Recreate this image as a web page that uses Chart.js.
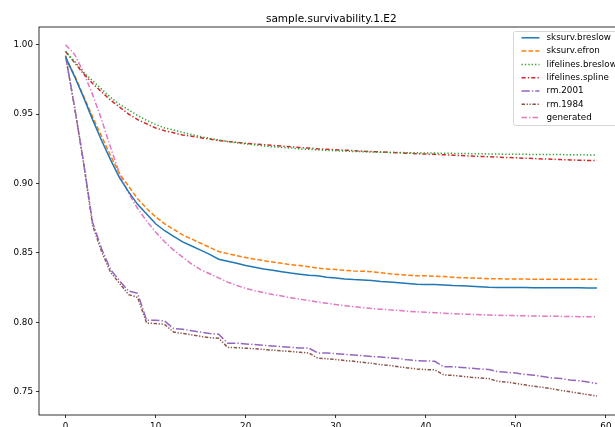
<!DOCTYPE html>
<html>
<head>
<meta charset="utf-8">
<title>sample.survivability.1.E2</title>
<script src="https://cdn.jsdelivr.net/npm/chart.js@4.4.1/dist/chart.umd.min.js"></script>
<style>
  html, body { margin: 0; padding: 0; background: #fff; overflow: hidden; }
  #wrap { width: 640px; height: 427px; }
</style>
</head>
<body>
<div id="wrap"><canvas id="surv" width="640" height="427"></canvas></div>
<script>
// time grid (days)
const times = [0, 1, 2, 3, 4, 5, 6, 7, 8, 9,
  10, 11, 12, 13, 14, 15, 16, 17, 18, 19,
  20, 21, 22, 23, 24, 25, 26, 27, 28, 29,
  30, 31, 32, 33, 34, 35, 36, 37, 38, 39,
  40, 41, 42, 43, 44, 45, 46, 47, 48, 49,
  50, 51, 52, 53, 54, 55, 56, 57, 58, 59];

const sksurvBreslow = [0.991, 0.977, 0.962, 0.946, 0.931, 0.917, 0.904, 0.894, 0.885, 0.878,
  0.871, 0.866, 0.862, 0.858, 0.855, 0.852, 0.849, 0.8455, 0.844, 0.8425,
  0.841, 0.8397, 0.8385, 0.8375, 0.8365, 0.8355, 0.8347, 0.834, 0.8335, 0.8325,
  0.832, 0.8313, 0.8308, 0.8305, 0.8302, 0.8295, 0.829, 0.8285, 0.828, 0.8275,
  0.8273, 0.8272, 0.827, 0.8265, 0.8263, 0.826, 0.8256, 0.8253, 0.8252, 0.8252,
  0.8252, 0.8251, 0.825, 0.825, 0.825, 0.825, 0.825, 0.8249, 0.8248, 0.8247];

const sksurvEfron = [0.991, 0.978, 0.963, 0.948, 0.934, 0.920, 0.907, 0.898, 0.889, 0.882,
  0.876, 0.871, 0.867, 0.863, 0.860, 0.857, 0.854, 0.851, 0.8495, 0.848,
  0.8467, 0.8455, 0.8445, 0.8435, 0.8425, 0.8415, 0.841, 0.840, 0.839, 0.8385,
  0.838, 0.8375, 0.837, 0.8368, 0.8365, 0.8358, 0.835, 0.8345, 0.834, 0.8335,
  0.8335, 0.8332, 0.833, 0.8325, 0.8322, 0.832, 0.8318, 0.8315, 0.8314, 0.8313,
  0.8312, 0.8312, 0.8311, 0.8311, 0.8311, 0.831, 0.831, 0.831, 0.831, 0.831];

const lifelinesBreslow = [0.995, 0.988, 0.980, 0.974, 0.968, 0.962, 0.957, 0.953, 0.949, 0.9455,
  0.9425, 0.940, 0.9385, 0.9368, 0.9352, 0.9338, 0.9325, 0.9313, 0.9302, 0.9293,
  0.9285, 0.9278, 0.9271, 0.9265, 0.926, 0.9255, 0.925, 0.9246, 0.9242, 0.9239,
  0.9236, 0.9233, 0.9231, 0.9229, 0.9227, 0.9225, 0.9224, 0.9223, 0.9222, 0.9221,
  0.922, 0.9219, 0.9218, 0.9217, 0.9216, 0.9215, 0.9214, 0.9213, 0.9212, 0.9211,
  0.921, 0.921, 0.9209, 0.9209, 0.9208, 0.9208, 0.9207, 0.9207, 0.9206, 0.9206];

const lifelinesSpline = [0.995, 0.987, 0.979, 0.972, 0.966, 0.960, 0.955, 0.950, 0.946, 0.943,
  0.940, 0.938, 0.9365, 0.935, 0.934, 0.933, 0.932, 0.931, 0.9303, 0.9297,
  0.929, 0.9285, 0.928, 0.9275, 0.927, 0.9265, 0.926, 0.9255, 0.925, 0.9247,
  0.9243, 0.924, 0.9237, 0.9233, 0.923, 0.9227, 0.9224, 0.9221, 0.9218, 0.9215,
  0.9212, 0.921, 0.9207, 0.9204, 0.9201, 0.9198, 0.9195, 0.9193, 0.919, 0.9187,
  0.9185, 0.9182, 0.918, 0.9177, 0.9175, 0.9172, 0.917, 0.9168, 0.9166, 0.9165];

const rm2001 = [0.992, 0.955, 0.915, 0.872, 0.853, 0.838, 0.830, 0.8225, 0.821, 0.8015,
  0.8015, 0.801, 0.7955, 0.795, 0.794, 0.793, 0.792, 0.7915, 0.785, 0.785,
  0.7845, 0.784, 0.7835, 0.783, 0.7825, 0.782, 0.7815, 0.7815, 0.778, 0.778,
  0.7775, 0.777, 0.7765, 0.776, 0.7755, 0.775, 0.7745, 0.774, 0.773, 0.7725,
  0.7722, 0.772, 0.768, 0.768, 0.7675, 0.767, 0.7665, 0.766, 0.7645, 0.764,
  0.7635, 0.7625, 0.762, 0.761, 0.760, 0.7595, 0.7585, 0.758, 0.757, 0.756];

const rm1984 = [0.992, 0.955, 0.915, 0.870, 0.851, 0.836, 0.828, 0.820, 0.818, 0.7995,
  0.7992, 0.7985, 0.793, 0.792, 0.791, 0.790, 0.789, 0.7885, 0.782, 0.7818,
  0.7814, 0.781, 0.7805, 0.780, 0.7795, 0.779, 0.7785, 0.778, 0.7742, 0.7738,
  0.7733, 0.7725, 0.772, 0.7712, 0.7705, 0.7695, 0.769, 0.768, 0.7672, 0.7665,
  0.766, 0.7658, 0.7622, 0.7618, 0.7612, 0.7605, 0.76, 0.7595, 0.7575, 0.757,
  0.756, 0.755, 0.754, 0.7532, 0.7522, 0.751, 0.750, 0.749, 0.748, 0.747];

const generated = [1.0, 0.993, 0.980, 0.964, 0.946, 0.926, 0.907, 0.893, 0.882, 0.873,
  0.865, 0.858, 0.852, 0.847, 0.842, 0.838, 0.835, 0.832, 0.829, 0.8265,
  0.8245, 0.8228, 0.8215, 0.820, 0.819, 0.8178, 0.8167, 0.8157, 0.8146, 0.8137,
  0.8128, 0.812, 0.8113, 0.8106, 0.81, 0.8095, 0.809, 0.8085, 0.808, 0.8076,
  0.8073, 0.807, 0.8066, 0.8063, 0.806, 0.8058, 0.8055, 0.8053, 0.8051, 0.805,
  0.8049, 0.8047, 0.8046, 0.8045, 0.8044, 0.8043, 0.8042, 0.8041, 0.804, 0.804];

const xTicks = [0, 10, 20, 30, 40, 50, 60];
const yTicks = [0.75, 0.80, 0.85, 0.90, 0.95, 1.00];

document.addEventListener('DOMContentLoaded', function() {
    const canvas = document.getElementById('surv');
    const FONT = 'DejaVu Sans';

    function series(label, values, color, dash) {
        return {
            label: label,
            data: times.map((t, i) => ({ x: t, y: values[i] })),
            borderColor: color,
            backgroundColor: color,
            borderWidth: 1.5,
            borderDash: dash,
            pointRadius: 0,
            tension: 0,
            fill: false
        };
    }

    // title centred over the axes box
    const titlePlugin = {
        id: 'axesTitle',
        afterDraw(chart) {
            const ctx = chart.ctx;
            const a = chart.chartArea;
            ctx.save();
            ctx.font = '10.5px "' + FONT + '"';
            ctx.fillStyle = '#000';
            ctx.textAlign = 'center';
            ctx.textBaseline = 'alphabetic';
            ctx.fillText('sample.survivability.1.E2', (a.left + a.right) / 2, a.top - 5.5);
            ctx.restore();
        }
    };

    // box around the plot, drawn over the lines
    const framePlugin = {
        id: 'frame',
        afterDatasetsDraw(chart) {
            const ctx = chart.ctx;
            const a = chart.chartArea;
            ctx.save();
            ctx.strokeStyle = '#000';
            ctx.lineWidth = 0.8;
            ctx.strokeRect(a.left, a.top, a.right - a.left, a.bottom - a.top);
            ctx.restore();
        }
    };

    // legend in the upper right corner of the axes
    const legendPlugin = {
        id: 'cornerLegend',
        afterDraw(chart) {
            const ctx = chart.ctx;
            const a = chart.chartArea;
            const sets = chart.data.datasets;
            const x0 = a.right - 110;
            const y0 = a.top + 4.5;
            const w = 108;
            const h = 94;
            ctx.save();
            ctx.beginPath();
            ctx.roundRect(x0, y0, w, h, 2);
            ctx.fillStyle = 'rgba(255,255,255,0.8)';
            ctx.fill();
            ctx.strokeStyle = '#cccccc';
            ctx.lineWidth = 0.8;
            ctx.stroke();

            ctx.font = '8.75px "' + FONT + '"';
            ctx.textBaseline = 'middle';
            sets.forEach((ds, i) => {
                const y = y0 + 6.3 + i * 13.3;
                ctx.beginPath();
                ctx.setLineDash(ds.borderDash || []);
                ctx.strokeStyle = ds.borderColor;
                ctx.lineWidth = ds.borderWidth;
                ctx.moveTo(x0 + 8, y);
                ctx.lineTo(x0 + 26, y);
                ctx.stroke();
                ctx.setLineDash([]);
                ctx.fillStyle = '#000';
                ctx.fillText(ds.label, x0 + 33, y);
            });
            ctx.restore();
        }
    };

    new Chart(canvas, {
        type: 'line',
        data: {
            datasets: [
                series('sksurv.breslow', sksurvBreslow, '#1f77b4', []),
                series('sksurv.efron', sksurvEfron, '#ff7f0e', [4.8, 2.1]),
                series('lifelines.breslow', lifelinesBreslow, '#2ca02c', [1.3, 2.1]),
                series('lifelines.spline', lifelinesSpline, '#d62728', [4.2, 2.1, 1.3, 2.1]),
                series('rm.2001', rm2001, '#9467bd', [8.3, 2.1, 1.3, 2.1]),
                series('rm.1984', rm1984, '#8c564b', [3.5, 1.6, 1.3, 1.6, 1.3, 1.6]),
                series('generated', generated, '#e377c2', [5.5, 2.1, 1.3, 2.1])
            ]
        },
        options: {
            responsive: false,
            animation: false,
            devicePixelRatio: 1,
            layout: {
                padding: { top: 27, right: 16.5, left: 0, bottom: 0 }
            },
            plugins: {
                legend: { display: false },
                title: { display: false },
                tooltip: { enabled: false }
            },
            scales: {
                x: {
                    type: 'linear',
                    min: -2.95,
                    max: 61.95,
                    afterBuildTicks: scale => { scale.ticks = xTicks.map(v => ({ value: v })); },
                    afterFit: scale => { scale.height = 12; },
                    grid: { drawOnChartArea: false, drawTicks: true, tickLength: 3, color: '#000', lineWidth: 0.8 },
                    border: { display: false },
                    ticks: {
                        color: '#000',
                        padding: 3,
                        maxRotation: 0,
                        font: { family: FONT, size: 8.75 },
                        callback: v => String(v)
                    }
                },
                y: {
                    type: 'linear',
                    min: 0.7333,
                    max: 1.0127,
                    afterBuildTicks: scale => { scale.ticks = yTicks.map(v => ({ value: v })); },
                    afterFit: scale => { scale.width = 39; },
                    grid: { drawOnChartArea: false, drawTicks: true, tickLength: 3, color: '#000', lineWidth: 0.8 },
                    border: { display: false },
                    ticks: {
                        color: '#000',
                        padding: 3,
                        font: { family: FONT, size: 8.75 },
                        callback: v => Number(v).toFixed(2)
                    }
                }
            }
        },
        plugins: [titlePlugin, framePlugin, legendPlugin]
    });
});
</script>
</body>
</html>
